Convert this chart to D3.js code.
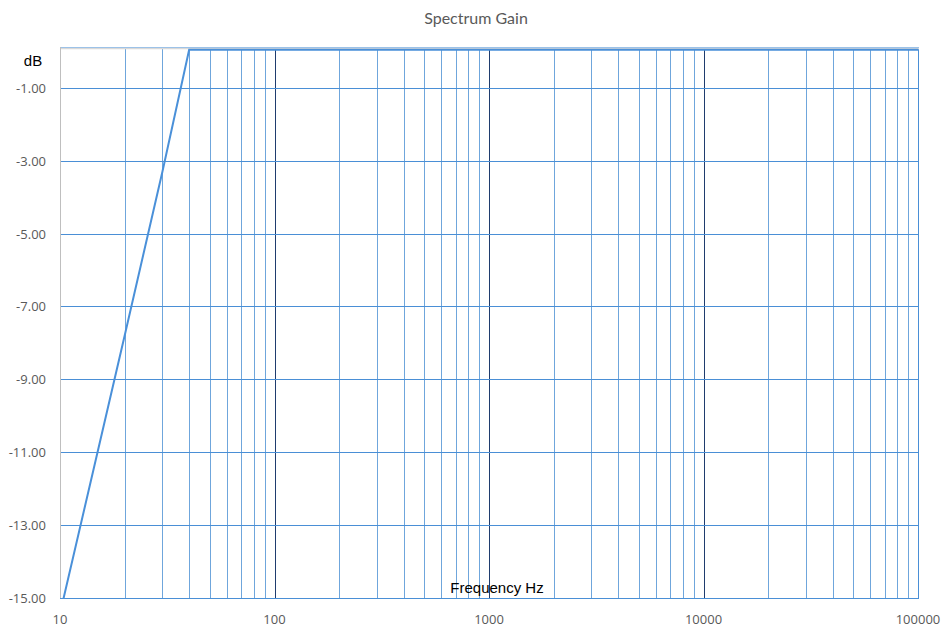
<!DOCTYPE html>
<html><head><meta charset="utf-8">
<script src="https://cdn.jsdelivr.net/npm/d3@7"></script>
<style>body{margin:0;background:#fff}svg{display:block}</style>
</head><body>
<svg id="c" width="950" height="633"></svg>
<script>
const freqs = [10, 20, 30, 40, 50, 100, 1000, 10000, 100000];
const gains = [-15.47, -7.85, -3.35, 0, 0, 0, 0, 0, 0];
const yTicks = [-1, -3, -5, -7, -9, -11, -13, -15];
const xTicks = [10, 100, 1000, 10000, 100000];

const svg = d3.select("#c");
const L = 60, R = 918, T = 47, B = 598;
const x = d3.scaleLog().domain([10, 100000]).range([L, R]);
const y = d3.scaleLinear().domain([-15, 0.12]).range([B, T]);

// minor vertical grid
const minor = [];
for (let d = 10; d < 100000; d *= 10) for (let k = 2; k <= 9; k++) minor.push(d * k);
svg.append("g").selectAll("line").data(minor).join("line")
  .attr("x1", d => Math.round(x(d)) + 0.5).attr("x2", d => Math.round(x(d)) + 0.5)
  .attr("y1", T).attr("y2", B).attr("stroke", "#6fa6dc").attr("stroke-width", 1);
// major vertical grid
svg.append("g").selectAll("line").data([100, 1000, 10000]).join("line")
  .attr("x1", d => Math.round(x(d)) + 0.5).attr("x2", d => Math.round(x(d)) + 0.5)
  .attr("y1", T).attr("y2", B).attr("stroke", "#1f3c6e").attr("stroke-width", 1);
// right edge
svg.append("line").attr("x1", Math.round(x(100000)) + 0.5).attr("x2", Math.round(x(100000)) + 0.5)
  .attr("y1", T).attr("y2", B).attr("stroke", "#4a8fd6");
// horizontal grid
svg.append("g").selectAll("line").data(yTicks.slice(0, -1)).join("line")
  .attr("x1", L).attr("x2", R + 1)
  .attr("y1", d => Math.round(y(d)) + 0.5).attr("y2", d => Math.round(y(d)) + 0.5)
  .attr("stroke", "#4a8fd6");
// top lines
svg.append("line").attr("x1", L).attr("x2", R + 1).attr("y1", T + 1.5).attr("y2", T + 1.5)
  .attr("stroke", "#d9d9d9").attr("stroke-width", 1.5);
svg.append("line").attr("x1", L).attr("x2", R + 1).attr("y1", T + 0.5).attr("y2", T + 0.5)
  .attr("stroke", "#9cc2e8");
// left axis
svg.append("line").attr("x1", L + 0.5).attr("x2", L + 0.5).attr("y1", T).attr("y2", B)
  .attr("stroke", "#bfbfbf");
// bottom axis
svg.append("line").attr("x1", L).attr("x2", R + 1).attr("y1", Math.round(y(-15)) + 0.5).attr("y2", Math.round(y(-15)) + 0.5)
  .attr("stroke", "#4a8fd6");

// data line
svg.append("clipPath").attr("id", "clip").append("rect")
  .attr("x", L).attr("y", T).attr("width", R - L + 1).attr("height", B - T + 1);
const pts = freqs.map((f, i) => [f, gains[i]]);
svg.append("path").datum(pts).attr("clip-path", "url(#clip)")
  .attr("d", d3.line().x(d => x(d[0])).y(d => y(d[1]) - 1.5))
  .attr("fill", "none").attr("stroke", "#4a90d9").attr("stroke-width", 2);

// y labels
svg.append("g").selectAll("text").data(yTicks).join("text")
  .attr("x", 46).attr("y", d => y(d) + 5).attr("text-anchor", "end")
  .attr("font-family", "'Open Sans', sans-serif").attr("font-size", 13).attr("fill", "#595959")
  .text(d => d.toFixed(2));
// x labels
svg.append("g").selectAll("text").data(xTicks).join("text")
  .attr("x", d => x(d)).attr("y", 624).attr("text-anchor", "middle")
  .attr("font-family", "'Open Sans', sans-serif").attr("font-size", 13).attr("fill", "#595959")
  .text(d => d);

svg.append("text").attr("x", 33).attr("y", 66).attr("text-anchor", "middle")
  .attr("font-family", "'Liberation Sans', Arial, sans-serif").attr("font-size", 15).attr("fill", "#000").text("dB");
svg.append("text").attr("x", 497).attr("y", 593).attr("text-anchor", "middle")
  .attr("font-family", "'Liberation Sans', Arial, sans-serif").attr("font-size", 15).attr("fill", "#000").text("Frequency Hz");
svg.append("text").attr("x", 476).attr("y", 24).attr("text-anchor", "middle")
  .attr("font-family", "Lato, sans-serif").attr("font-size", 16).attr("fill", "#595959").text("Spectrum Gain");
</script>
</body></html>
